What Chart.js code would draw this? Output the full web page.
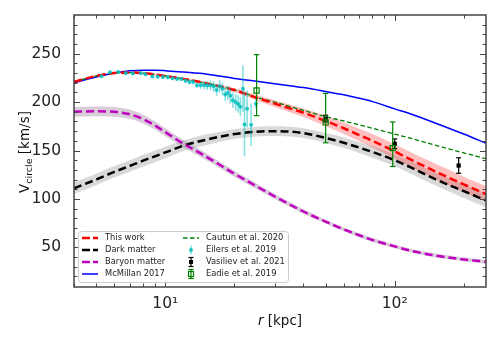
<!DOCTYPE html>
<html>
<head>
<meta charset="utf-8">
<script src="https://cdn.jsdelivr.net/npm/chart.js@4.4.1/dist/chart.umd.min.js"></script>
<style>
  html, body { margin: 0; padding: 0; background: #fff; }
  #wrap { width: 500px; height: 350px; }
</style>
</head>
<body>
<div id="wrap"><canvas id="kurvaRotasi"></canvas></div>
<script>
// radii (kpc) where the model curves are sampled
const rGrid = [4, 5, 6, 7, 8, 9, 10, 12, 15, 20, 25, 30, 40, 50, 60, 70, 80, 100, 120, 150, 200, 250];

// model curves, km/s
const thisWork    = [221, 227, 230, 230.5, 230, 228.5, 227, 224, 219.5, 212.5, 204.5, 198.5, 189, 180.5, 173, 166, 160, 149, 139.5, 128.5, 115, 105];
const thisWorkErr = [1, 1, 1, 1, 1, 1, 1, 1.2, 1.5, 2, 2.8, 3.5, 4.5, 5.5, 6, 6.5, 7, 7.5, 7.8, 8, 8, 8];
const darkMatter  = [111, 120, 128, 134, 139.5, 144, 148, 155, 161, 167, 169.5, 170, 168, 163, 158, 153, 148.5, 140, 131.5, 120.5, 108, 98.5];
const darkErr     = [6, 6, 6, 6, 6, 6, 6, 5.5, 5.5, 5, 5, 5, 5, 5, 5.5, 5.5, 6, 6, 6.5, 6.5, 7, 7];
const baryon      = [190, 190.5, 190, 187.5, 182.5, 176, 169, 157, 144, 126, 113, 102.5, 87, 76.5, 68.5, 62.5, 57.5, 51, 46, 41.5, 37.5, 35];
const baryonErr   = [5, 5, 5, 4.8, 4.5, 4.2, 4, 3.8, 3.5, 3, 2.8, 2.5, 2.2, 2, 2, 2, 2, 2, 2, 2, 2, 2];
const mcmillan    = [220, 226, 230, 232.3, 233, 233, 232.5, 231, 229, 224.5, 221.5, 219, 215, 211, 207.5, 204, 200.5, 193, 187, 178.5, 167, 157.5];
const cautun      = [221, 227, 230, 230.5, 230, 228.5, 227, 224, 219.5, 212.5, 205, 200, 191.5, 185, 180.5, 176.5, 173, 167, 162, 155.5, 147.5, 141.5];

// Eilers et al. 2019
const eilersR   = [5.27, 5.74, 6.23, 6.73, 7.22, 7.82, 8.19, 8.78, 9.27, 9.76, 10.26, 10.75, 11.25, 11.75, 12.25, 12.74, 13.23, 13.74, 14.24, 14.74, 15.22, 15.74, 16.24, 16.74, 17.25, 17.75, 18.24, 18.74, 19.22, 19.71, 20.27, 20.78, 21.24, 21.80, 22.14, 22.73, 23.66, 24.82];
const eilersV   = [226.8, 230.8, 231.2, 229.9, 229.6, 229.9, 228.9, 226.5, 226.2, 225.9, 225.7, 224.7, 224.0, 223.9, 222.2, 220.8, 220.9, 217.5, 217.3, 217.6, 217.1, 217.4, 216.1, 212.5, 216.4, 213.7, 207.9, 209.6, 206.5, 201.9, 199.8, 198.1, 195.3, 213.7, 177.0, 193.1, 176.6, 198.4];
const eilersErr = [1.5, 1.5, 1.5, 1.5, 1.5, 1.5, 1.5, 1.5, 1.5, 1.5, 1.8, 1.8, 2, 2, 2.2, 2.5, 2.8, 3, 3.5, 4, 4.5, 5, 5.5, 6, 6.5, 6.5, 7, 7.5, 8, 8, 8.5, 9, 10, 24, 33, 19, 22, 5];

// Vasiliev et al. 2021
const vasR   = [50, 100, 190];
const vasV   = [183, 157, 134.5];
const vasErr = [3.5, 5, 8];

// Eadie et al. 2019
const eadieR  = [25, 50, 98];
const eadieV  = [212, 179, 152.5];
const eadieLo = [26, 21, 19];
const eadieHi = [37, 30, 27];

// ticks
const xMajor = [10, 100];
const xMinor = [4, 5, 6, 7, 8, 9, 20, 30, 40, 50, 60, 70, 80, 90, 200];
const yMajor = [50, 100, 150, 200, 250];
const yMinor = [20, 30, 40, 60, 70, 80, 90, 110, 120, 130, 140, 160, 170, 180, 190, 210, 220, 230, 240, 260, 270, 280];

const FONT = '"DejaVu Sans", "Liberation Sans", sans-serif';
const RED = '#ff0000', BLK = '#000000', MAG = '#bf00bf', BLUE = '#0000ff', GRN = '#008000';

const pts = (xs, ys) => xs.map((x, i) => ({x: x, y: ys[i]}));

function curve(label, ys, color, width, dash, order) {
    return {
        type: 'line', label: label, data: pts(rGrid, ys),
        borderColor: color, borderWidth: width, borderDash: dash,
        pointRadius: 0, fill: false, cubicInterpolationMode: 'monotone', order: order
    };
}
function band(ys, err, sign, color) {
    return {
        type: 'line', label: '', data: pts(rGrid, ys.map((v, i) => v + sign * err[i])),
        borderWidth: 0, borderColor: 'rgba(0,0,0,0)', backgroundColor: color,
        pointRadius: 0, fill: sign > 0 ? '+1' : false, cubicInterpolationMode: 'monotone', order: 20
    };
}

const datasets = [
    band(thisWork, thisWorkErr, 1, 'rgba(255,0,0,0.25)'),
    band(thisWork, thisWorkErr, -1, 'rgba(255,0,0,0.25)'),
    band(darkMatter, darkErr, 1, 'rgba(128,128,128,0.3)'),
    band(darkMatter, darkErr, -1, 'rgba(128,128,128,0.3)'),
    band(baryon, baryonErr, 1, 'rgba(140,100,140,0.33)'),
    band(baryon, baryonErr, -1, 'rgba(140,100,140,0.33)'),
    curve('Dark matter', darkMatter, BLK, 2.5, [8, 4], 7),
    curve('Baryon matter', baryon, MAG, 2.5, [8, 4], 6),
    curve('McMillan 2017', mcmillan, BLUE, 1.5, [], 5),
    curve('Cautun et al. 2020', cautun, GRN, 1.3, [4.5, 2.5], 4),
    curve('This work', thisWork, RED, 2.5, [8, 4], 3),
    {
        type: 'scatter', label: 'Eilers et al. 2019', data: pts(eilersR, eilersV),
        pointRadius: 2, pointBackgroundColor: 'rgba(0,191,191,0.85)', pointBorderWidth: 0, order: 2
    },
    {
        type: 'scatter', label: 'Vasiliev et al. 2021', data: pts(vasR, vasV),
        pointStyle: 'rect', pointRadius: 3, pointBackgroundColor: BLK, pointBorderWidth: 0, order: 1
    },
    {
        type: 'scatter', label: 'Eadie et al. 2019', data: pts(eadieR, eadieV),
        pointStyle: 'rect', pointRadius: 3.6, pointBackgroundColor: 'rgba(0,0,0,0)',
        pointBorderColor: GRN, pointBorderWidth: 1.2, order: 0
    }
];

function line(ctx, x1, y1, x2, y2) {
    ctx.beginPath(); ctx.moveTo(x1, y1); ctx.lineTo(x2, y2); ctx.stroke();
}

// vertical error bars, drawn just before their markers
function errBars(ctx, sx, sy, xs, ys, lo, hi, color, width, cap) {
    ctx.save();
    ctx.strokeStyle = color; ctx.lineWidth = width;
    xs.forEach((r, i) => {
        const px = sx.getPixelForValue(r);
        const top = sy.getPixelForValue(ys[i] + hi[i]);
        const bot = sy.getPixelForValue(ys[i] - lo[i]);
        line(ctx, px, top, px, bot);
        if (cap > 0) {
            line(ctx, px - cap, top, px + cap, top);
            line(ctx, px - cap, bot, px + cap, bot);
        }
    });
    ctx.restore();
}

const errorBars = {
    id: 'errorBars',
    beforeDatasetDraw(chart, args) {
        const {ctx, scales: {x, y}} = chart;
        const lbl = chart.data.datasets[args.index].label;
        ctx.save();
        ctx.beginPath();
        ctx.rect(chart.chartArea.left, chart.chartArea.top, chart.chartArea.width, chart.chartArea.height);
        ctx.clip();
        if (lbl === 'Eilers et al. 2019') errBars(ctx, x, y, eilersR, eilersV, eilersErr, eilersErr, 'rgba(0,191,191,0.5)', 1.5, 0);
        if (lbl === 'Vasiliev et al. 2021') errBars(ctx, x, y, vasR, vasV, vasErr, vasErr, BLK, 1.2, 2.5);
        if (lbl === 'Eadie et al. 2019') errBars(ctx, x, y, eadieR, eadieV, eadieLo, eadieHi, GRN, 1.2, 2.8);
        ctx.restore();
    }
};

// frame with inward ticks on all four sides
const frame = {
    id: 'frame',
    afterDatasetsDraw(chart) {
        const {ctx, chartArea: a, scales: {x, y}} = chart;
        ctx.save();
        ctx.strokeStyle = '#444';
        ctx.lineWidth = 1;
        const xt = (vals, len) => vals.forEach(v => {
            const px = Math.round(x.getPixelForValue(v)) + 0.5;
            line(ctx, px, a.bottom, px, a.bottom - len);
            line(ctx, px, a.top, px, a.top + len);
        });
        const yt = (vals, len) => vals.forEach(v => {
            const py = Math.round(y.getPixelForValue(v)) + 0.5;
            line(ctx, a.left, py, a.left + len, py);
            line(ctx, a.right, py, a.right - len, py);
        });
        xt(xMinor, 3.5); xt(xMajor, 6);
        yt(yMinor, 3.5); yt(yMajor, 6);
        ctx.lineWidth = 1.5;
        ctx.strokeRect(a.left, a.top, a.width, a.height);
        ctx.restore();
    },
    afterDraw(chart) {
        const {ctx, chartArea: a} = chart;
        ctx.save();
        ctx.fillStyle = '#111';
        ctx.textBaseline = 'alphabetic';
        // y title: V_circle [km/s]
        ctx.translate(29, (a.top + a.bottom) / 2 + 1);
        ctx.rotate(-Math.PI / 2);
        const big = '13.5px ' + FONT, small = '9.5px ' + FONT;
        ctx.font = big; const wV = ctx.measureText('V').width, wU = ctx.measureText(' [km/s]').width;
        ctx.font = small; const wS = ctx.measureText('circle').width;
        let cx = -(wV + wS + wU) / 2;
        ctx.font = big; ctx.fillText('V', cx, 0); cx += wV;
        ctx.font = small; ctx.fillText('circle', cx, 3); cx += wS;
        ctx.font = big; ctx.fillText(' [km/s]', cx, 0);
        ctx.restore();

        // x title: r [kpc]
        ctx.save();
        ctx.fillStyle = '#111';
        const it = 'italic 13.5px ' + FONT;
        ctx.font = it; const wr = ctx.measureText('r').width;
        ctx.font = big; const wk = ctx.measureText(' [kpc]').width;
        let sx = (a.left + a.right) / 2 - (wr + wk) / 2;
        ctx.font = it; ctx.fillText('r', sx, 325);
        ctx.font = big; ctx.fillText(' [kpc]', sx + wr, 325);
        ctx.restore();

        drawLegend(ctx);
    }
};

function drawLegend(ctx) {
    const bx = 78, by = 231, bw = 210, bh = 51;
    ctx.save();
    ctx.beginPath();
    ctx.roundRect(bx + 0.5, by + 0.5, bw, bh, 3);
    ctx.fillStyle = 'rgba(255,255,255,0.85)';
    ctx.fill();
    ctx.strokeStyle = '#cccccc';
    ctx.lineWidth = 1;
    ctx.stroke();

    const rows = [238, 250, 262, 274];
    const col1 = [
        ['This work', RED, 2.5, [8, 3]],
        ['Dark matter', BLK, 2.5, [8, 3]],
        ['Baryon matter', MAG, 2.5, [8, 3]],
        ['McMillan 2017', BLUE, 1.5, []]
    ];
    col1.forEach((e, i) => {
        ctx.strokeStyle = e[1]; ctx.lineWidth = e[2]; ctx.setLineDash(e[3]);
        line(ctx, 82, rows[i], 98, rows[i]);
    });
    ctx.setLineDash([4.5, 2.5]);
    ctx.strokeStyle = GRN; ctx.lineWidth = 1.3;
    line(ctx, 183, rows[0], 199, rows[0]);
    ctx.setLineDash([]);
    // Eilers
    ctx.strokeStyle = 'rgba(0,191,191,0.5)'; ctx.lineWidth = 1.5;
    line(ctx, 191, rows[1] - 4.5, 191, rows[1] + 4.5);
    ctx.fillStyle = 'rgba(0,191,191,0.85)';
    ctx.beginPath(); ctx.arc(191, rows[1], 2, 0, Math.PI * 2); ctx.fill();
    // Vasiliev
    ctx.strokeStyle = BLK; ctx.lineWidth = 1.2;
    line(ctx, 191, rows[2] - 4.5, 191, rows[2] + 4.5);
    line(ctx, 188.5, rows[2] - 4.5, 193.5, rows[2] - 4.5);
    line(ctx, 188.5, rows[2] + 4.5, 193.5, rows[2] + 4.5);
    ctx.fillStyle = BLK; ctx.fillRect(189, rows[2] - 2, 4, 4);
    // Eadie
    ctx.strokeStyle = GRN;
    line(ctx, 191, rows[3] - 4.5, 191, rows[3] + 4.5);
    line(ctx, 188.2, rows[3] - 4.5, 193.8, rows[3] - 4.5);
    line(ctx, 188.2, rows[3] + 4.5, 193.8, rows[3] + 4.5);
    ctx.strokeRect(188.5, rows[3] - 2.5, 5, 5);

    ctx.fillStyle = '#222';
    ctx.font = '8.3px ' + FONT;
    ctx.textBaseline = 'middle';
    col1.forEach((e, i) => ctx.fillText(e[0], 105, rows[i]));
    ['Cautun et al. 2020', 'Eilers et al. 2019', 'Vasiliev et al. 2021', 'Eadie et al. 2019']
        .forEach((t, i) => ctx.fillText(t, 206, rows[i]));
    ctx.restore();
}

const sup = {10: '10\u00b9', 100: '10\u00b2'};

document.addEventListener('DOMContentLoaded', function() {
    const ctx = document.getElementById('kurvaRotasi').getContext('2d');
    new Chart(ctx, {
        type: 'line',
        data: { datasets: datasets },
        options: {
            responsive: true,
            maintainAspectRatio: false,
            animation: false,
            layout: { padding: { top: 15, right: 14, left: 0, bottom: 0 } },
            plugins: {
                legend: { display: false },
                tooltip: { enabled: false },
                filler: { propagate: false, drawTime: 'beforeDatasetsDraw' }
            },
            scales: {
                x: {
                    type: 'logarithmic',
                    min: 4, max: 250,
                    grid: { display: false },
                    border: { display: false },
                    afterBuildTicks: s => { s.ticks = xMajor.map(v => ({value: v, major: true})); },
                    afterFit: s => { s.height = 63; },
                    ticks: {
                        autoSkip: false, maxRotation: 0, padding: 0,
                        color: '#222', font: { family: FONT, size: 15.5 },
                        callback: v => sup[v] || ''
                    }
                },
                y: {
                    min: 9, max: 290,
                    grid: { display: false },
                    border: { display: false },
                    afterBuildTicks: s => { s.ticks = yMajor.map(v => ({value: v})); },
                    afterFit: s => { s.width = 74; },
                    ticks: {
                        padding: 5, color: '#222', font: { family: FONT, size: 15.5 }
                    }
                }
            }
        },
        plugins: [errorBars, frame]
    });
});
</script>
</body>
</html>
